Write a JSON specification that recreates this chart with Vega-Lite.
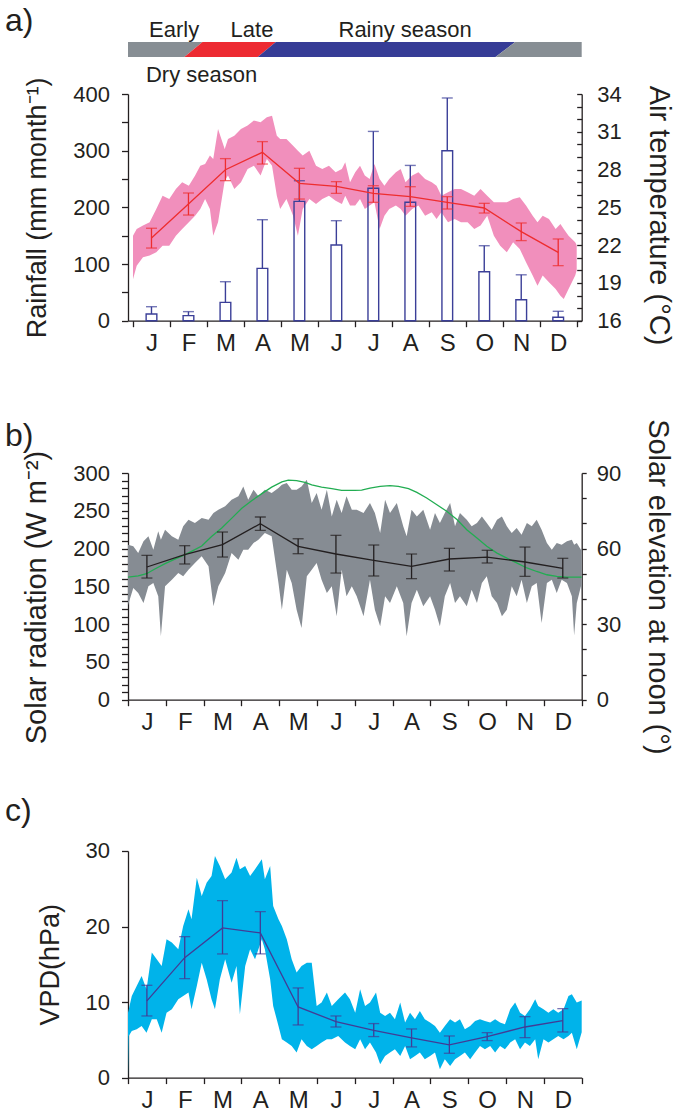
{
  "$schema": "https://vega.github.io/schema/vega-lite/v6.json",
  "padding": {"left": 5, "top": 5, "right": 2, "bottom": 2},
  "background": "white",
  "spacing": 6,
  "config": {
    "view": {"stroke": null},
    "font": "Liberation Sans",
    "axis": {"grid": false, "domainColor": "#231f20", "tickColor": "#231f20", "labelColor": "#231f20", "titleColor": "#231f20", "labelFont": "Liberation Sans", "titleFont": "Liberation Sans", "labelFontSize": 22, "titleFontSize": 27, "titleFontWeight": "normal", "domainWidth": 1.3, "tickWidth": 1.3, "labelOverlap": false, "labelFlush": false},
    "title": {"font": "Liberation Sans", "fontWeight": "normal", "color": "#231f20"}
  },
  "datasets": {
    "season": [
      {"seg": "g1", "season": "Early dry", "edge": 0, "start": 0, "end": 1.49},
      {"seg": "g1", "season": "Early dry", "edge": 1, "start": 0, "end": 1.97},
      {"seg": "r", "season": "Late dry", "edge": 0, "start": 1.49, "end": 3.43},
      {"seg": "r", "season": "Late dry", "edge": 1, "start": 1.97, "end": 3.91},
      {"seg": "b", "season": "Rainy", "edge": 0, "start": 3.43, "end": 9.72},
      {"seg": "b", "season": "Rainy", "edge": 1, "start": 3.91, "end": 10.24},
      {"seg": "g2", "season": "Early dry", "edge": 0, "start": 9.72, "end": 12},
      {"seg": "g2", "season": "Early dry", "edge": 1, "start": 10.24, "end": 12}
    ],
    "seasonLabels": [
      {"label": "Early", "m": 1.22},
      {"label": "Late", "m": 3.28},
      {"label": "Rainy season", "m": 7.33}
    ],
    "monthly": [
      {"m": 0.5, "rain": 11.8, "rainTop": 24.7, "T": 22.57, "Tlo": 21.77, "Thi": 23.34, "S": 175.6, "Slo": 161, "Shi": 191, "V": 10.15, "Vlo": 8.16, "Vhi": 12.22},
      {"m": 1.5, "rain": 9, "rainTop": 16, "T": 25.27, "Tlo": 24.39, "Thi": 26.14, "S": 191.9, "Slo": 179.6, "Shi": 203.8, "V": 15.88, "Vlo": 13.1, "Vhi": 18.66},
      {"m": 2.5, "rain": 32.4, "rainTop": 68.8, "T": 27.99, "Tlo": 27.12, "Thi": 28.87, "S": 205.2, "Slo": 188.8, "Shi": 221.9, "V": 19.81, "Vlo": 16.37, "Vhi": 23.43},
      {"m": 3.5, "rain": 92.4, "rainTop": 178.2, "T": 29.37, "Tlo": 28.44, "Thi": 30.22, "S": 233, "Slo": 224.1, "Shi": 241.8, "V": 19.15, "Vlo": 16.37, "Vhi": 21.97},
      {"m": 4.5, "rain": 210.5, "rainTop": 247, "T": 26.91, "Tlo": 25.66, "Thi": 28.1, "S": 203, "Slo": 193.2, "Shi": 213, "V": 9.35, "Vlo": 6.97, "Vhi": 11.87},
      {"m": 5.5, "rain": 133.6, "rainTop": 176.5, "T": 26.67, "Tlo": 26.11, "Thi": 27.04, "S": 192.8, "Slo": 167.6, "Shi": 217.5, "V": 7.41, "Vlo": 6.7, "Vhi": 8.16},
      {"m": 6.5, "rain": 233.6, "rainTop": 334, "T": 26.11, "Tlo": 25.4, "Thi": 26.72, "S": 184.4, "Slo": 163.7, "Shi": 204.7, "V": 6.26, "Vlo": 5.43, "Vhi": 7.15},
      {"m": 7.5, "rain": 208.9, "rainTop": 274, "T": 25.85, "Tlo": 25.08, "Thi": 26.64, "S": 176.5, "Slo": 160.2, "Shi": 192.8, "V": 5.25, "Vlo": 4.06, "Vhi": 6.44},
      {"m": 8.5, "rain": 300, "rainTop": 393, "T": 25.4, "Tlo": 24.87, "Thi": 25.85, "S": 186.2, "Slo": 170.3, "Shi": 200.3, "V": 4.32, "Vlo": 3.22, "Vhi": 5.51},
      {"m": 9.5, "rain": 86.5, "rainTop": 132.3, "T": 24.95, "Tlo": 24.55, "Thi": 25.32, "S": 188.8, "Slo": 180.9, "Shi": 197.7, "V": 5.43, "Vlo": 4.9, "Vhi": 5.95},
      {"m": 10.5, "rain": 37, "rainTop": 81, "T": 23.07, "Tlo": 22.36, "Thi": 23.76, "S": 182.2, "Slo": 163.2, "Shi": 202, "V": 6.7, "Vlo": 5.29, "Vhi": 8.07},
      {"m": 11.5, "rain": 6, "rainTop": 16.6, "T": 21.43, "Tlo": 20.37, "Thi": 22.49, "S": 173.8, "Slo": 161, "Shi": 187.1, "V": 7.54, "Vlo": 6.04, "Vhi": 9.13}
    ],
    "temp": [
      {"m": 0, "lo": 19.3, "hi": 22.75}, {"m": 0.1, "lo": 20.37, "hi": 23.28}, {"m": 0.27, "lo": 21.03, "hi": 23.55}, {"m": 0.45, "lo": 21.17, "hi": 23.81},
      {"m": 0.63, "lo": 21.43, "hi": 24.87}, {"m": 0.8, "lo": 21.96, "hi": 25.93}, {"m": 0.98, "lo": 21.96, "hi": 25.66}, {"m": 1.16, "lo": 22.75, "hi": 26.46},
      {"m": 1.33, "lo": 23.28, "hi": 26.99}, {"m": 1.51, "lo": 23.81, "hi": 26.72}, {"m": 1.68, "lo": 24.34, "hi": 27.52}, {"m": 1.82, "lo": 24.87, "hi": 28.31},
      {"m": 1.95, "lo": 25.66, "hi": 28.44}, {"m": 2.08, "lo": 24.87, "hi": 29.11}, {"m": 2.17, "lo": 22.75, "hi": 28.84}, {"m": 2.3, "lo": 23.81, "hi": 31.22},
      {"m": 2.48, "lo": 27.12, "hi": 29.64}, {"m": 2.57, "lo": 27.52, "hi": 30.43}, {"m": 2.74, "lo": 26.46, "hi": 30.69}, {"m": 2.92, "lo": 26.99, "hi": 31.22},
      {"m": 3.1, "lo": 28.05, "hi": 31.49}, {"m": 3.27, "lo": 28.31, "hi": 31.89}, {"m": 3.45, "lo": 27.52, "hi": 31.75}, {"m": 3.62, "lo": 28.84, "hi": 32.15},
      {"m": 3.76, "lo": 28.31, "hi": 32.28}, {"m": 3.89, "lo": 25.93, "hi": 30.69}, {"m": 3.98, "lo": 24.87, "hi": 30.43}, {"m": 4.15, "lo": 25.66, "hi": 30.43},
      {"m": 4.33, "lo": 24.34, "hi": 29.9}, {"m": 4.46, "lo": 22.75, "hi": 29.5}, {"m": 4.59, "lo": 24.87, "hi": 29.11}, {"m": 4.77, "lo": 25.66, "hi": 29.5},
      {"m": 4.95, "lo": 25.27, "hi": 28.31}, {"m": 5.12, "lo": 25.66, "hi": 28.05}, {"m": 5.3, "lo": 25.93, "hi": 28.31}, {"m": 5.48, "lo": 25.53, "hi": 27.78},
      {"m": 5.65, "lo": 25.27, "hi": 28.05}, {"m": 5.74, "lo": 25.93, "hi": 28.58}, {"m": 5.87, "lo": 25.14, "hi": 26.99}, {"m": 6.01, "lo": 25.14, "hi": 27.78},
      {"m": 6.14, "lo": 25.66, "hi": 28.31}, {"m": 6.27, "lo": 24.87, "hi": 27.52}, {"m": 6.4, "lo": 25.14, "hi": 27.25}, {"m": 6.53, "lo": 25.4, "hi": 28.44},
      {"m": 6.67, "lo": 23.28, "hi": 27.25}, {"m": 6.8, "lo": 24.34, "hi": 26.72}, {"m": 6.93, "lo": 24.87, "hi": 27.25}, {"m": 7.11, "lo": 25.14, "hi": 27.78},
      {"m": 7.24, "lo": 24.87, "hi": 28.05}, {"m": 7.37, "lo": 24.34, "hi": 26.99}, {"m": 7.55, "lo": 24.87, "hi": 27.52}, {"m": 7.72, "lo": 25.14, "hi": 27.78},
      {"m": 7.9, "lo": 24.34, "hi": 27.25}, {"m": 8.08, "lo": 24.61, "hi": 26.99}, {"m": 8.21, "lo": 24.08, "hi": 26.72}, {"m": 8.34, "lo": 24.61, "hi": 25.93},
      {"m": 8.52, "lo": 23.81, "hi": 26.19}, {"m": 8.7, "lo": 24.08, "hi": 26.46}, {"m": 8.87, "lo": 23.81, "hi": 26.46}, {"m": 9.05, "lo": 23.81, "hi": 26.19},
      {"m": 9.23, "lo": 23.28, "hi": 25.93}, {"m": 9.4, "lo": 23.55, "hi": 26.46}, {"m": 9.58, "lo": 24.34, "hi": 25.93}, {"m": 9.76, "lo": 22.75, "hi": 25.4},
      {"m": 9.93, "lo": 21.96, "hi": 25.4}, {"m": 10.11, "lo": 21.43, "hi": 25.4}, {"m": 10.28, "lo": 22.22, "hi": 25.66}, {"m": 10.46, "lo": 21.7, "hi": 25.8},
      {"m": 10.63, "lo": 20.64, "hi": 25.14}, {"m": 10.81, "lo": 19.58, "hi": 24.34}, {"m": 10.94, "lo": 18.78, "hi": 23.81}, {"m": 11.08, "lo": 19.58, "hi": 24.34},
      {"m": 11.25, "lo": 19.05, "hi": 24.08}, {"m": 11.43, "lo": 18.52, "hi": 23.28}, {"m": 11.56, "lo": 17.99, "hi": 23.68}, {"m": 11.65, "lo": 17.72, "hi": 23.28},
      {"m": 11.78, "lo": 18.52, "hi": 22.75}, {"m": 11.96, "lo": 19.58, "hi": 22.22}, {"m": 12, "lo": 20.0, "hi": 22.0}
    ],
    "solar": [
      {"m": 0, "lo": 125, "hi": 205}, {"m": 0.14, "lo": 147.8, "hi": 203}, {"m": 0.27, "lo": 141.2, "hi": 194.1}, {"m": 0.41, "lo": 128, "hi": 209.6},
      {"m": 0.54, "lo": 150, "hi": 216.2}, {"m": 0.67, "lo": 154.4, "hi": 198.5}, {"m": 0.8, "lo": 136.8, "hi": 222.8}, {"m": 0.87, "lo": 83.8, "hi": 211.8},
      {"m": 0.98, "lo": 150, "hi": 225}, {"m": 1.16, "lo": 158.8, "hi": 216.2}, {"m": 1.33, "lo": 167.7, "hi": 211.8}, {"m": 1.46, "lo": 163.2, "hi": 229.4},
      {"m": 1.6, "lo": 172, "hi": 238.2}, {"m": 1.77, "lo": 180.9, "hi": 233.8}, {"m": 1.95, "lo": 189.7, "hi": 240.4}, {"m": 2.13, "lo": 176.5, "hi": 238.2},
      {"m": 2.26, "lo": 123.6, "hi": 247.1}, {"m": 2.39, "lo": 150, "hi": 251.5}, {"m": 2.57, "lo": 167.7, "hi": 255.9}, {"m": 2.74, "lo": 194.1, "hi": 264.7},
      {"m": 2.92, "lo": 185.3, "hi": 269.1}, {"m": 3.05, "lo": 198.5, "hi": 282.3}, {"m": 3.18, "lo": 198.5, "hi": 264.7}, {"m": 3.32, "lo": 207.4, "hi": 277.9},
      {"m": 3.45, "lo": 211.8, "hi": 269.1}, {"m": 3.62, "lo": 220.6, "hi": 277.9}, {"m": 3.8, "lo": 216.2, "hi": 273.5}, {"m": 3.98, "lo": 154.4, "hi": 280.1},
      {"m": 4.07, "lo": 119.1, "hi": 284.6}, {"m": 4.2, "lo": 172.1, "hi": 286.8}, {"m": 4.33, "lo": 154.4, "hi": 277.9}, {"m": 4.46, "lo": 119.1, "hi": 277.9},
      {"m": 4.59, "lo": 95, "hi": 282.3}, {"m": 4.73, "lo": 163.2, "hi": 291.2}, {"m": 4.86, "lo": 172.1, "hi": 260.3}, {"m": 4.99, "lo": 180.9, "hi": 273.5},
      {"m": 5.12, "lo": 158.8, "hi": 251.5}, {"m": 5.26, "lo": 141.2, "hi": 277.9}, {"m": 5.39, "lo": 150, "hi": 242.6}, {"m": 5.52, "lo": 110.3, "hi": 264.7},
      {"m": 5.65, "lo": 172.1, "hi": 247.1}, {"m": 5.78, "lo": 136.8, "hi": 269.1}, {"m": 5.92, "lo": 150, "hi": 251.5}, {"m": 6.05, "lo": 136.8, "hi": 251.5},
      {"m": 6.23, "lo": 110.3, "hi": 247.1}, {"m": 6.4, "lo": 158.8, "hi": 260.3}, {"m": 6.53, "lo": 119.1, "hi": 247.1}, {"m": 6.67, "lo": 97.1, "hi": 220.6},
      {"m": 6.8, "lo": 136.8, "hi": 264.7}, {"m": 6.93, "lo": 128, "hi": 247.1}, {"m": 7.11, "lo": 150, "hi": 260.3}, {"m": 7.28, "lo": 128, "hi": 229.4},
      {"m": 7.37, "lo": 83.8, "hi": 216.2}, {"m": 7.5, "lo": 128, "hi": 251.5}, {"m": 7.64, "lo": 145.6, "hi": 242.6}, {"m": 7.81, "lo": 123.6, "hi": 251.5},
      {"m": 7.99, "lo": 136.8, "hi": 225}, {"m": 8.12, "lo": 119.1, "hi": 247.1}, {"m": 8.25, "lo": 97.1, "hi": 233.8}, {"m": 8.38, "lo": 136.8, "hi": 247.1},
      {"m": 8.52, "lo": 154.4, "hi": 260.3}, {"m": 8.65, "lo": 128, "hi": 229.4}, {"m": 8.78, "lo": 136.8, "hi": 247.1}, {"m": 8.96, "lo": 123.6, "hi": 238.2},
      {"m": 9.09, "lo": 145.6, "hi": 229.4}, {"m": 9.23, "lo": 128, "hi": 233.8}, {"m": 9.36, "lo": 154.4, "hi": 242.6}, {"m": 9.49, "lo": 163.2, "hi": 233.8},
      {"m": 9.62, "lo": 136.8, "hi": 225}, {"m": 9.76, "lo": 128, "hi": 238.2}, {"m": 9.89, "lo": 110.3, "hi": 242.6}, {"m": 10.02, "lo": 119.1, "hi": 229.4},
      {"m": 10.15, "lo": 150, "hi": 220.6}, {"m": 10.28, "lo": 136.8, "hi": 227.2}, {"m": 10.41, "lo": 158.8, "hi": 218.4}, {"m": 10.55, "lo": 128, "hi": 233.8},
      {"m": 10.68, "lo": 150, "hi": 229.4}, {"m": 10.81, "lo": 154.4, "hi": 238.2}, {"m": 10.94, "lo": 101.5, "hi": 225}, {"m": 11.08, "lo": 154.4, "hi": 207.4},
      {"m": 11.21, "lo": 158.8, "hi": 198.5}, {"m": 11.34, "lo": 141.2, "hi": 207.4}, {"m": 11.47, "lo": 158.8, "hi": 205.2}, {"m": 11.61, "lo": 154.4, "hi": 209.6},
      {"m": 11.74, "lo": 136.8, "hi": 211.8}, {"m": 11.8, "lo": 85, "hi": 205}, {"m": 11.87, "lo": 128, "hi": 207.4}, {"m": 11.98, "lo": 150, "hi": 198.5},
      {"m": 12, "lo": 140, "hi": 200}
    ],
    "elev": [
      {"m": 0, "e": 48.7}, {"m": 0.27, "e": 49.2}, {"m": 0.49, "e": 50.0}, {"m": 0.71, "e": 51.9}, {"m": 0.98, "e": 54.0}, {"m": 1.24, "e": 55.8},
      {"m": 1.51, "e": 57.6}, {"m": 1.68, "e": 58.9}, {"m": 1.95, "e": 61.0}, {"m": 2.21, "e": 64.8}, {"m": 2.48, "e": 68.2}, {"m": 2.74, "e": 72.0},
      {"m": 3.01, "e": 76.0}, {"m": 3.27, "e": 79.0}, {"m": 3.54, "e": 81.8}, {"m": 3.8, "e": 84.4}, {"m": 4.07, "e": 86.5}, {"m": 4.24, "e": 87.2},
      {"m": 4.46, "e": 87.0}, {"m": 4.68, "e": 86.3}, {"m": 4.86, "e": 85.3}, {"m": 5.12, "e": 84.4}, {"m": 5.39, "e": 83.8}, {"m": 5.65, "e": 83.1},
      {"m": 6.0, "e": 83.1}, {"m": 6.18, "e": 83.2}, {"m": 6.4, "e": 84.0}, {"m": 6.67, "e": 84.7}, {"m": 6.93, "e": 85.0}, {"m": 7.15, "e": 84.7},
      {"m": 7.42, "e": 83.8}, {"m": 7.64, "e": 82.3}, {"m": 7.9, "e": 80.1}, {"m": 8.17, "e": 77.4}, {"m": 8.43, "e": 74.8}, {"m": 8.7, "e": 71.5},
      {"m": 8.96, "e": 67.5}, {"m": 9.23, "e": 64.2}, {"m": 9.49, "e": 60.9}, {"m": 9.76, "e": 58.2}, {"m": 10.02, "e": 56.2}, {"m": 10.28, "e": 54.3},
      {"m": 10.55, "e": 52.3}, {"m": 10.81, "e": 50.9}, {"m": 11.08, "e": 49.6}, {"m": 11.34, "e": 49.0}, {"m": 11.61, "e": 48.7}, {"m": 12, "e": 48.7}
    ],
    "vpd": [
      {"m": 0, "lo": 0, "hi": 8.6}, {"m": 0.02, "lo": 5.5, "hi": 9.0}, {"m": 0.1, "lo": 6.17, "hi": 10.81}, {"m": 0.23, "lo": 6.4, "hi": 12.13},
      {"m": 0.36, "lo": 6.84, "hi": 13.46}, {"m": 0.49, "lo": 5.95, "hi": 11.69}, {"m": 0.63, "lo": 7.72, "hi": 16.55}, {"m": 0.76, "lo": 7.72, "hi": 15.66},
      {"m": 0.89, "lo": 5.95, "hi": 14.78}, {"m": 1.02, "lo": 8.6, "hi": 18.31}, {"m": 1.16, "lo": 9.04, "hi": 17.87}, {"m": 1.33, "lo": 10.37, "hi": 16.99},
      {"m": 1.46, "lo": 10.81, "hi": 20.08}, {"m": 1.6, "lo": 11.25, "hi": 22.28}, {"m": 1.68, "lo": 9.04, "hi": 20.96}, {"m": 1.82, "lo": 12.13, "hi": 26.47},
      {"m": 1.95, "lo": 15.22, "hi": 24.05}, {"m": 2.08, "lo": 13.02, "hi": 25.81}, {"m": 2.21, "lo": 10.37, "hi": 26.7}, {"m": 2.3, "lo": 9.04, "hi": 29.34},
      {"m": 2.43, "lo": 13.02, "hi": 28.02}, {"m": 2.57, "lo": 15.66, "hi": 26.25}, {"m": 2.74, "lo": 12.57, "hi": 27.14}, {"m": 2.87, "lo": 14.78, "hi": 29.12},
      {"m": 2.96, "lo": 8.38, "hi": 27.58}, {"m": 3.1, "lo": 14.78, "hi": 28.02}, {"m": 3.23, "lo": 16.99, "hi": 26.7}, {"m": 3.36, "lo": 15.66, "hi": 27.58},
      {"m": 3.54, "lo": 18.31, "hi": 28.9}, {"m": 3.62, "lo": 16.99, "hi": 26.25}, {"m": 3.76, "lo": 13.02, "hi": 28.02}, {"m": 3.84, "lo": 9.49, "hi": 22.72},
      {"m": 3.98, "lo": 6.84, "hi": 20.96}, {"m": 4.07, "lo": 5.07, "hi": 20.08}, {"m": 4.2, "lo": 4.63, "hi": 18.31}, {"m": 4.33, "lo": 4.19, "hi": 15.66},
      {"m": 4.46, "lo": 3.31, "hi": 13.9}, {"m": 4.59, "lo": 5.07, "hi": 14.78}, {"m": 4.73, "lo": 4.19, "hi": 15.22}, {"m": 4.86, "lo": 3.75, "hi": 15.22},
      {"m": 4.99, "lo": 4.19, "hi": 9.49}, {"m": 5.12, "lo": 4.63, "hi": 9.93}, {"m": 5.26, "lo": 5.07, "hi": 11.25}, {"m": 5.39, "lo": 5.07, "hi": 9.49},
      {"m": 5.56, "lo": 5.51, "hi": 10.37}, {"m": 5.74, "lo": 4.63, "hi": 11.25}, {"m": 5.87, "lo": 4.19, "hi": 10.37}, {"m": 6.01, "lo": 3.75, "hi": 8.6},
      {"m": 6.14, "lo": 5.07, "hi": 11.69}, {"m": 6.27, "lo": 3.75, "hi": 9.49}, {"m": 6.4, "lo": 4.63, "hi": 9.93}, {"m": 6.56, "lo": 3.31, "hi": 11.25},
      {"m": 6.67, "lo": 1.76, "hi": 8.6}, {"m": 6.8, "lo": 2.87, "hi": 8.16}, {"m": 6.93, "lo": 3.31, "hi": 8.6}, {"m": 7.06, "lo": 3.75, "hi": 7.72},
      {"m": 7.2, "lo": 2.87, "hi": 9.93}, {"m": 7.33, "lo": 4.19, "hi": 7.28}, {"m": 7.46, "lo": 2.42, "hi": 8.6}, {"m": 7.59, "lo": 2.87, "hi": 7.72},
      {"m": 7.72, "lo": 3.31, "hi": 8.82}, {"m": 7.85, "lo": 2.42, "hi": 7.72}, {"m": 7.99, "lo": 2.87, "hi": 7.28}, {"m": 8.12, "lo": 3.31, "hi": 6.84},
      {"m": 8.25, "lo": 1.1, "hi": 5.95}, {"m": 8.38, "lo": 2.42, "hi": 6.84}, {"m": 8.52, "lo": 1.54, "hi": 7.72}, {"m": 8.65, "lo": 2.42, "hi": 7.28},
      {"m": 8.78, "lo": 2.87, "hi": 7.72}, {"m": 8.91, "lo": 3.31, "hi": 6.4}, {"m": 9.05, "lo": 2.42, "hi": 6.84}, {"m": 9.18, "lo": 3.31, "hi": 7.5},
      {"m": 9.31, "lo": 4.19, "hi": 7.72}, {"m": 9.44, "lo": 3.75, "hi": 7.5}, {"m": 9.58, "lo": 4.19, "hi": 7.28}, {"m": 9.71, "lo": 3.31, "hi": 7.72},
      {"m": 9.84, "lo": 4.19, "hi": 7.28}, {"m": 9.97, "lo": 3.75, "hi": 7.06}, {"m": 10.11, "lo": 4.63, "hi": 9.04}, {"m": 10.24, "lo": 5.07, "hi": 9.93},
      {"m": 10.37, "lo": 3.75, "hi": 8.6}, {"m": 10.5, "lo": 4.63, "hi": 8.16}, {"m": 10.63, "lo": 4.19, "hi": 9.04}, {"m": 10.77, "lo": 5.07, "hi": 10.37},
      {"m": 10.85, "lo": 2.42, "hi": 9.49}, {"m": 10.99, "lo": 5.07, "hi": 9.04}, {"m": 11.12, "lo": 4.63, "hi": 8.6}, {"m": 11.25, "lo": 5.07, "hi": 9.04},
      {"m": 11.38, "lo": 5.51, "hi": 8.6}, {"m": 11.52, "lo": 5.07, "hi": 9.04}, {"m": 11.65, "lo": 5.51, "hi": 10.81}, {"m": 11.74, "lo": 5.95, "hi": 11.03},
      {"m": 11.87, "lo": 3.75, "hi": 9.93}, {"m": 12, "lo": 6.0, "hi": 10.2}
    ]
  },
  "vconcat": [
    {
      "width": 453.7,
      "height": 15,
      "title": {"text": "a)", "anchor": "start", "frame": "group", "dx": -123, "offset": -44, "fontSize": 32, "baseline": "alphabetic"},
      "layer": [
        {
          "data": {"name": "season"},
          "mark": {"type": "area", "orient": "horizontal", "interpolate": "linear"},
          "encoding": {
            "x": {"field": "start", "type": "quantitative", "stack": null, "scale": {"domain": [0, 12], "nice": false, "zero": false}, "axis": null},
            "x2": {"field": "end"},
            "y": {"field": "edge", "type": "quantitative", "scale": {"domain": [0, 1], "nice": false, "zero": false}, "axis": null},
            "detail": {"field": "seg"},
            "color": {"field": "season", "type": "nominal", "scale": {"domain": ["Early dry", "Late dry", "Rainy"], "range": ["#878e94", "#ed2a32", "#363c96"]}, "legend": null}
          }
        },
        {
          "data": {"name": "seasonLabels"},
          "mark": {"type": "text", "fontSize": 22, "font": "Liberation Sans", "color": "#231f20", "align": "center", "baseline": "alphabetic", "dy": -12.5},
          "encoding": {
            "x": {"field": "m", "type": "quantitative", "scale": {"domain": [0, 12], "nice": false, "zero": false}, "axis": null},
            "y": {"datum": 0.5, "type": "quantitative"},
            "text": {"field": "label"}
          }
        }
      ]
    },
    {
      "width": 453.7,
      "height": 226.7,
      "title": {"text": "Dry season", "anchor": "start", "frame": "group", "dx": 18, "offset": -27, "fontSize": 22, "baseline": "alphabetic"},
      "encoding": {
        "x": {"field": "m", "type": "quantitative", "scale": {"domain": [0, 12], "nice": false, "zero": false},
          "axis": {"values": [0, 0.5, 1, 1.5, 2, 2.5, 3, 3.5, 4, 4.5, 5, 5.5, 6, 6.5, 7, 7.5, 8, 8.5, 9, 9.5, 10, 10.5, 11, 11.5, 12],
            "labelExpr": "datum.value % 1 === 0 ? '' : ['J','F','M','A','M','J','J','A','S','O','N','D'][floor(datum.value)]",
            "tickOpacity": {"condition": {"test": "datum.value % 1 !== 0", "value": 0}, "value": 1},
            "tickSize": 6, "labelPadding": 5, "labelFontSize": 24, "title": " ", "titleFontSize": 10, "titlePadding": 46}}
      },
      "layer": [
        {
          "data": {"name": "temp"},
          "mark": {"type": "area", "color": "#f18fbc"},
          "encoding": {
            "y": {"field": "hi", "type": "quantitative", "scale": {"domain": [16, 34], "nice": false, "zero": false},
              "axis": {"orient": "right", "values": [16, 17, 18, 19, 20, 21, 22, 23, 24, 25, 26, 27, 28, 29, 30, 31, 32, 33, 34],
                "labelExpr": "(datum.value - 16) % 3 === 0 ? datum.label : ''", "tickSize": -5, "labelPadding": 20,
                "title": "Air temperature (°C)", "titlePadding": 22, "titleFontSize": 29, "titleY": 121}},
            "y2": {"field": "lo"}
          }
        },
        {
          "data": {"name": "monthly"},
          "mark": {"type": "bar", "width": 10.7, "fill": "transparent", "stroke": "#3b3f98", "strokeWidth": 1.4},
          "encoding": {
            "y": {"field": "rain", "type": "quantitative", "scale": {"domain": [0, 400], "nice": false},
              "axis": {"orient": "left", "values": [0, 50, 100, 150, 200, 250, 300, 350, 400],
                "labelExpr": "datum.value % 100 === 0 ? datum.label : ''", "tickSize": 6.5, "labelPadding": 12,
                "title": "Rainfall (mm month⁻¹)", "titlePadding": 21}}
          }
        },
        {
          "data": {"name": "monthly"},
          "mark": {"type": "rule", "color": "#3b3f98", "strokeWidth": 1.4},
          "encoding": {
            "y": {"field": "rain", "type": "quantitative", "scale": {"domain": [0, 400], "nice": false}, "axis": null},
            "y2": {"field": "rainTop"}
          }
        },
        {
          "data": {"name": "monthly"},
          "mark": {"type": "tick", "orient": "horizontal", "size": 11, "thickness": 1.4, "color": "#3b3f98"},
          "encoding": {
            "y": {"field": "rainTop", "type": "quantitative", "scale": {"domain": [0, 400], "nice": false}, "axis": null}
          }
        },
        {
          "data": {"name": "monthly"},
          "mark": {"type": "rule", "color": "#ee2d2f", "strokeWidth": 1.3},
          "encoding": {
            "y": {"field": "Tlo", "type": "quantitative", "scale": {"domain": [16, 34], "nice": false, "zero": false}, "axis": null},
            "y2": {"field": "Thi"}
          }
        },
        {
          "data": {"name": "monthly"},
          "transform": [{"fold": ["Tlo", "Thi"], "as": ["k", "v"]}],
          "mark": {"type": "tick", "orient": "horizontal", "size": 11, "thickness": 1.3, "color": "#ee2d2f"},
          "encoding": {
            "y": {"field": "v", "type": "quantitative", "scale": {"domain": [16, 34], "nice": false, "zero": false}, "axis": null}
          }
        },
        {
          "data": {"name": "monthly"},
          "mark": {"type": "line", "color": "#ee2d2f", "strokeWidth": 1.3},
          "encoding": {
            "y": {"field": "T", "type": "quantitative", "scale": {"domain": [16, 34], "nice": false, "zero": false}, "axis": null}
          }
        }
      ],
      "resolve": {"scale": {"y": "independent"}}
    },
    {
      "width": 453.7,
      "height": 226.7,
      "title": {"text": "b)", "anchor": "start", "frame": "group", "dx": -123, "offset": -59, "fontSize": 32, "baseline": "alphabetic"},
      "encoding": {
        "x": {"field": "m", "type": "quantitative", "scale": {"domain": [0, 12], "nice": false, "zero": false},
          "axis": {"values": [0, 0.5, 1, 1.5, 2, 2.5, 3, 3.5, 4, 4.5, 5, 5.5, 6, 6.5, 7, 7.5, 8, 8.5, 9, 9.5, 10, 10.5, 11, 11.5, 12],
            "labelExpr": "datum.value % 1 === 0 ? '' : ['J','F','M','A','M','J','J','A','S','O','N','D'][floor(datum.value)]",
            "tickOpacity": {"condition": {"test": "datum.value % 1 !== 0", "value": 0}, "value": 1},
            "tickSize": 6, "labelPadding": 5, "labelFontSize": 24, "title": " ", "titleFontSize": 10, "titlePadding": 44}}
      },
      "layer": [
        {
          "data": {"name": "solar"},
          "mark": {"type": "area", "color": "#868c93"},
          "encoding": {
            "y": {"field": "hi", "type": "quantitative", "scale": {"domain": [0, 300], "nice": false},
              "axis": {"orient": "left", "values": [0, 10, 20, 30, 40, 50, 60, 70, 80, 90, 100, 110, 120, 130, 140, 150, 160, 170, 180, 190, 200, 210, 220, 230, 240, 250, 260, 270, 280, 290, 300],
                "labelExpr": "datum.value % 50 === 0 ? datum.label : ''", "tickSize": 6.5, "labelPadding": 12,
                "title": "Solar radiation (W m⁻²)", "titlePadding": 21, "titleFontSize": 29, "titleY": 124}},
            "y2": {"field": "lo"}
          }
        },
        {
          "data": {"name": "elev"},
          "mark": {"type": "line", "color": "#22ad52", "strokeWidth": 1.3},
          "encoding": {
            "y": {"field": "e", "type": "quantitative", "scale": {"domain": [0, 90], "nice": false},
              "axis": {"orient": "right", "values": [0, 10, 20, 30, 40, 50, 60, 70, 80, 90],
                "labelExpr": "datum.value % 30 === 0 ? datum.label : ''", "tickSize": 4.5, "labelPadding": 10,
                "title": "Solar elevation at noon (°)", "titlePadding": 22, "titleFontSize": 29}}
          }
        },
        {
          "data": {"name": "monthly"},
          "mark": {"type": "rule", "color": "#231f20", "strokeWidth": 1.3},
          "encoding": {
            "y": {"field": "Slo", "type": "quantitative", "scale": {"domain": [0, 300], "nice": false}, "axis": null},
            "y2": {"field": "Shi"}
          }
        },
        {
          "data": {"name": "monthly"},
          "transform": [{"fold": ["Slo", "Shi"], "as": ["k", "v"]}],
          "mark": {"type": "tick", "orient": "horizontal", "size": 11, "thickness": 1.3, "color": "#231f20"},
          "encoding": {
            "y": {"field": "v", "type": "quantitative", "scale": {"domain": [0, 300], "nice": false}, "axis": null}
          }
        },
        {
          "data": {"name": "monthly"},
          "mark": {"type": "line", "color": "#231f20", "strokeWidth": 1.3},
          "encoding": {
            "y": {"field": "S", "type": "quantitative", "scale": {"domain": [0, 300], "nice": false}, "axis": null}
          }
        }
      ],
      "resolve": {"scale": {"y": "independent"}}
    },
    {
      "width": 453.7,
      "height": 226.6,
      "title": {"text": "c)", "anchor": "start", "frame": "group", "dx": -123, "offset": -13, "fontSize": 32, "baseline": "alphabetic"},
      "encoding": {
        "x": {"field": "m", "type": "quantitative", "scale": {"domain": [0, 12], "nice": false, "zero": false},
          "axis": {"values": [0, 0.5, 1, 1.5, 2, 2.5, 3, 3.5, 4, 4.5, 5, 5.5, 6, 6.5, 7, 7.5, 8, 8.5, 9, 9.5, 10, 10.5, 11, 11.5, 12],
            "labelExpr": "datum.value % 1 === 0 ? '' : ['J','F','M','A','M','J','J','A','S','O','N','D'][floor(datum.value)]",
            "tickOpacity": {"condition": {"test": "datum.value % 1 !== 0", "value": 0}, "value": 1},
            "tickSize": 6, "labelPadding": 5, "labelFontSize": 24, "title": null}}
      },
      "layer": [
        {
          "data": {"name": "vpd"},
          "mark": {"type": "area", "color": "#00b3ea"},
          "encoding": {
            "y": {"field": "hi", "type": "quantitative", "scale": {"domain": [0, 30], "nice": false},
              "axis": {"orient": "left", "values": [0, 5, 10, 15, 20, 25, 30], "tickSize": 6.5, "labelPadding": 12,
                "title": "VPD(hPa)", "titlePadding": 21}},
            "y2": {"field": "lo"}
          }
        },
        {
          "data": {"name": "monthly"},
          "mark": {"type": "rule", "color": "#413c96", "strokeWidth": 1.3},
          "encoding": {
            "y": {"field": "Vlo", "type": "quantitative", "scale": {"domain": [0, 30], "nice": false}},
            "y2": {"field": "Vhi"}
          }
        },
        {
          "data": {"name": "monthly"},
          "transform": [{"fold": ["Vlo", "Vhi"], "as": ["k", "v"]}],
          "mark": {"type": "tick", "orient": "horizontal", "size": 11, "thickness": 1.3, "color": "#413c96"},
          "encoding": {
            "y": {"field": "v", "type": "quantitative", "scale": {"domain": [0, 30], "nice": false}}
          }
        },
        {
          "data": {"name": "monthly"},
          "mark": {"type": "line", "color": "#413c96", "strokeWidth": 1.3},
          "encoding": {
            "y": {"field": "V", "type": "quantitative", "scale": {"domain": [0, 30], "nice": false}}
          }
        }
      ]
    }
  ]
}
